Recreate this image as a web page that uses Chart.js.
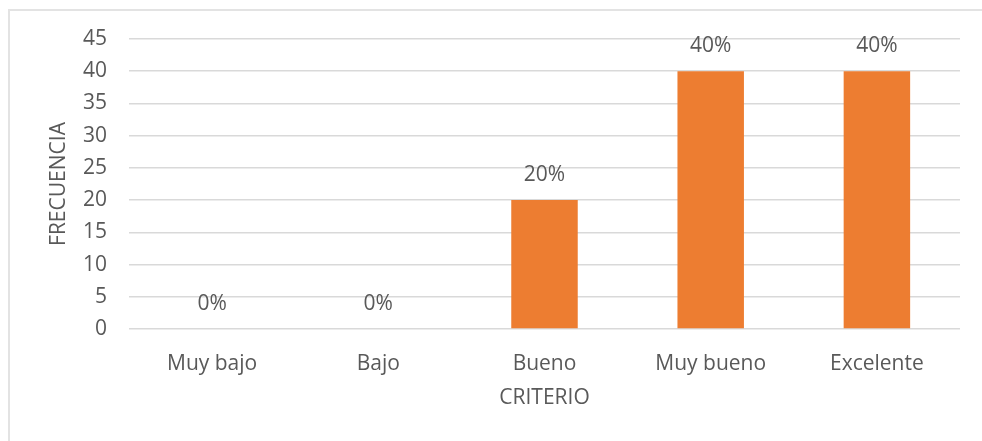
<!DOCTYPE html>
<html lang="es">
<head>
<meta charset="UTF-8">
<title>Frecuencia por criterio</title>
<script src="https://cdn.jsdelivr.net/npm/chart.js@4.4.0/dist/chart.umd.min.js"></script>
<style>
    body { margin: 0; background: #fff; }
    #wrap { position: relative; width: 982px; height: 441px; overflow: hidden; }
    #frame { position: absolute; left: 8px; top: 9px; width: 1000px; height: 460px; border: 2px solid #e3e3e3; box-sizing: border-box; }
    #chart { position: absolute; left: 0; top: 0; }
</style>
</head>
<body>
<div id="wrap">
    <div id="frame"></div>
    <canvas id="chart" width="982" height="441"></canvas>
</div>
<script>
    const criterios = ['Muy bajo', 'Bajo', 'Bueno', 'Muy bueno', 'Excelente'];
    const frecuencia = [0, 0, 20, 40, 40];
    const porcentajes = ['0%', '0%', '20%', '40%', '40%'];
    const yTicks = [0, 5, 10, 15, 20, 25, 30, 35, 40, 45];

    const gris = '#595959';
    const fuente = '"Open Sans", "Noto Sans", sans-serif';
    const tam = 21;

    // etiquetas de porcentaje encima de cada barra
    const etiquetas = {
        id: 'etiquetas',
        afterDatasetsDraw(chart) {
            const ctx = chart.ctx;
            const meta = chart.getDatasetMeta(0);
            ctx.save();
            ctx.font = tam + 'px ' + fuente;
            ctx.fillStyle = gris;
            ctx.textAlign = 'center';
            ctx.textBaseline = 'middle';
            meta.data.forEach((bar, i) => {
                ctx.fillText(porcentajes[i], bar.x, bar.y - 25);
            });
            ctx.restore();
        }
    };

    new Chart(document.getElementById('chart').getContext('2d'), {
        type: 'bar',
        data: {
            labels: criterios,
            datasets: [{
                data: frecuencia,
                backgroundColor: '#ED7D31',
                barPercentage: 0.4,
                categoryPercentage: 1
            }]
        },
        options: {
            responsive: false,
            animation: false,
            layout: { padding: { left: 40, right: 22, top: 39, bottom: 20 } },
            plugins: { legend: { display: false }, tooltip: { enabled: false } },
            scales: {
                x: {
                    grid: { display: false },
                    border: { display: false },
                    ticks: { color: gris, font: { family: fuente, size: tam }, padding: 14 },
                    title: { display: true, text: 'CRITERIO', color: gris, font: { family: fuente, size: tam }, padding: { top: 0, bottom: 10 } },
                    afterFit(scale) { scale.height = 92; }
                },
                y: {
                    min: 0,
                    max: 45,
                    afterBuildTicks(scale) { scale.ticks = yTicks.map(v => ({ value: v })); },
                    grid: { color: '#d9d9d9', lineWidth: 1.5, drawTicks: false },
                    border: { display: false },
                    ticks: { color: gris, font: { family: fuente, size: tam }, padding: 22 },
                    title: { display: true, text: 'FRECUENCIA', color: gris, font: { family: fuente, size: tam }, padding: { top: 6, bottom: 0 } },
                    afterFit(scale) { scale.width = 89; }
                }
            }
        },
        plugins: [etiquetas]
    });
</script>
</body>
</html>
